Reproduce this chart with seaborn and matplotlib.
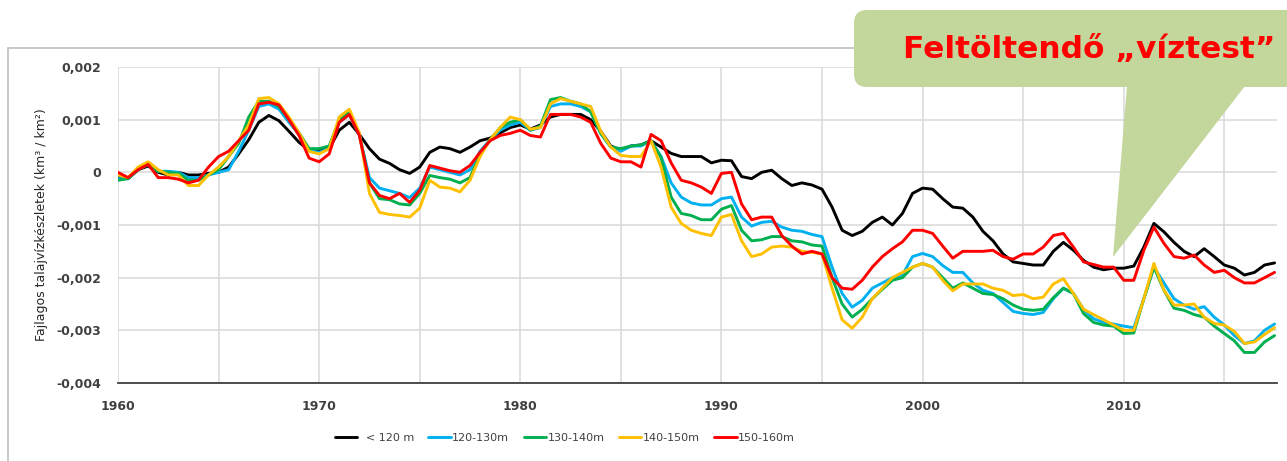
import numpy as np
import pandas as pd
import matplotlib
matplotlib.use("Agg")
import matplotlib.pyplot as plt
import seaborn as sns
from matplotlib.patches import FancyBboxPatch, Polygon
from matplotlib.lines import Line2D
from matplotlib.transforms import IdentityTransform
from matplotlib.ticker import FixedLocator, FuncFormatter

# Half-yearly sampling, 1960.0 ... 2017.5
years = 1960 + 0.5 * np.arange(116)

# Specific groundwater storage change, in 1e-3 km3/km2
lt120 = [
    -0.10, -0.12, 0.05, 0.12, 0.00, -0.05, 0.00, -0.05, -0.05, -0.02,
    0.00, 0.10, 0.35, 0.62, 0.95, 1.08, 0.98, 0.78, 0.57, 0.42,
    0.40, 0.45, 0.80, 0.95, 0.72, 0.45, 0.25, 0.17, 0.05, -0.02,
    0.10, 0.38, 0.48, 0.45, 0.38, 0.48, 0.60, 0.65, 0.75, 0.85,
    0.90, 0.82, 0.90, 1.05, 1.10, 1.10, 1.10, 1.00, 0.78, 0.50,
    0.42, 0.50, 0.52, 0.60, 0.48, 0.36, 0.30, 0.30, 0.30, 0.18,
    0.23, 0.22, -0.08, -0.12, 0.00, 0.04, -0.12, -0.25, -0.20, -0.24,
    -0.32, -0.66, -1.10, -1.20, -1.12, -0.95, -0.85, -1.00, -0.78, -0.40,
    -0.30, -0.32, -0.50, -0.66, -0.68, -0.85, -1.12, -1.30, -1.55, -1.70,
    -1.73, -1.76, -1.76, -1.50, -1.33, -1.48, -1.67, -1.80, -1.85, -1.82,
    -1.82, -1.78, -1.42, -0.97, -1.13, -1.33, -1.50, -1.60, -1.45, -1.60,
    -1.76, -1.82, -1.95, -1.90, -1.76, -1.72,
]
h120_130 = [
    -0.12, -0.12, 0.05, 0.15, 0.02, 0.02, 0.00, -0.10, -0.10, -0.05,
    0.00, 0.05, 0.40, 0.80, 1.25, 1.30, 1.20, 0.95, 0.72, 0.42,
    0.38, 0.45, 0.95, 1.10, 0.70, -0.10, -0.30, -0.35, -0.40, -0.48,
    -0.30, 0.10, 0.05, 0.00, -0.05, 0.05, 0.40, 0.62, 0.80, 0.90,
    0.95, 0.80, 0.85, 1.25, 1.30, 1.30, 1.25, 1.15, 0.74, 0.48,
    0.40, 0.50, 0.50, 0.60, 0.30, -0.20, -0.47, -0.58, -0.62, -0.62,
    -0.50, -0.47, -0.85, -1.02, -0.95, -0.93, -1.04, -1.10, -1.12, -1.18,
    -1.22, -1.80, -2.30, -2.56, -2.43, -2.20, -2.10, -2.00, -1.95, -1.60,
    -1.54, -1.60, -1.77, -1.90, -1.90, -2.10, -2.24, -2.30, -2.47, -2.64,
    -2.68, -2.70, -2.66, -2.40, -2.20, -2.30, -2.60, -2.78, -2.85, -2.88,
    -2.92, -2.95, -2.40, -1.80, -2.10, -2.40, -2.52, -2.60, -2.55, -2.75,
    -2.90, -3.10, -3.25, -3.20, -3.00, -2.88,
]
h130_140 = [
    -0.15, -0.12, 0.05, 0.15, 0.02, 0.00, -0.02, -0.15, -0.15, -0.05,
    0.05, 0.30, 0.55, 1.05, 1.35, 1.35, 1.25, 1.00, 0.75, 0.45,
    0.45, 0.50, 1.00, 1.15, 0.72, -0.20, -0.50, -0.52, -0.60, -0.62,
    -0.40, -0.06, -0.10, -0.13, -0.20, -0.10, 0.35, 0.62, 0.85, 0.95,
    1.00, 0.80, 0.88, 1.38, 1.42, 1.35, 1.30, 1.15, 0.74, 0.48,
    0.45, 0.50, 0.52, 0.60, 0.28, -0.47, -0.78, -0.82, -0.90, -0.90,
    -0.70, -0.63, -1.10, -1.30, -1.28, -1.22, -1.22, -1.30, -1.32, -1.38,
    -1.40, -2.00, -2.50, -2.75, -2.60, -2.40, -2.22, -2.05, -2.00, -1.80,
    -1.73, -1.80, -2.00, -2.20, -2.10, -2.20, -2.30, -2.32, -2.40, -2.52,
    -2.60, -2.62, -2.60, -2.38, -2.20, -2.30, -2.68, -2.85, -2.90, -2.92,
    -3.06, -3.05, -2.40, -1.80, -2.24, -2.58, -2.62, -2.70, -2.75, -2.92,
    -3.06, -3.20, -3.42, -3.42, -3.22, -3.10,
]
h140_150 = [
    -0.05, -0.10, 0.10, 0.20, 0.05, -0.05, -0.05, -0.25, -0.25, -0.05,
    0.10, 0.30, 0.60, 0.90, 1.40, 1.42, 1.30, 1.05, 0.75, 0.40,
    0.35, 0.45, 1.05, 1.20, 0.75, -0.40, -0.76, -0.80, -0.82, -0.85,
    -0.68, -0.15, -0.28, -0.30, -0.37, -0.15, 0.30, 0.62, 0.85, 1.05,
    1.00, 0.82, 0.85, 1.30, 1.40, 1.35, 1.30, 1.25, 0.78, 0.48,
    0.32, 0.30, 0.30, 0.60, 0.10, -0.66, -0.97, -1.10, -1.16, -1.20,
    -0.85, -0.80, -1.30, -1.60, -1.55, -1.42, -1.40, -1.42, -1.50, -1.52,
    -1.55, -2.20, -2.80, -2.96, -2.75, -2.40, -2.20, -2.00, -1.90, -1.80,
    -1.73, -1.80, -2.05, -2.25, -2.12, -2.12, -2.12, -2.20, -2.24, -2.34,
    -2.32, -2.40, -2.37, -2.12, -2.02, -2.30, -2.60, -2.70, -2.80, -2.90,
    -3.00, -3.00, -2.40, -1.73, -2.24, -2.52, -2.52, -2.50, -2.75, -2.87,
    -2.90, -3.02, -3.25, -3.22, -3.08, -2.95,
]
h150_160 = [
    0.00, -0.10, 0.05, 0.15, -0.10, -0.10, -0.13, -0.20, -0.15, 0.10,
    0.30, 0.40, 0.60, 0.80, 1.30, 1.33, 1.28, 1.00, 0.70, 0.27,
    0.20, 0.35, 0.95, 1.10, 0.70, -0.20, -0.44, -0.50, -0.40, -0.57,
    -0.34, 0.13, 0.08, 0.03, 0.00, 0.13, 0.38, 0.60, 0.70, 0.74,
    0.80, 0.70, 0.67, 1.10, 1.10, 1.10, 1.05, 0.95, 0.55, 0.27,
    0.20, 0.20, 0.10, 0.72, 0.60, 0.18, -0.15, -0.20, -0.28, -0.40,
    -0.02, 0.00, -0.60, -0.90, -0.85, -0.85, -1.20, -1.40, -1.55, -1.50,
    -1.55, -2.00, -2.20, -2.22, -2.05, -1.80, -1.60, -1.45, -1.32, -1.10,
    -1.10, -1.16, -1.40, -1.63, -1.50, -1.50, -1.50, -1.48, -1.60, -1.65,
    -1.55, -1.55, -1.42, -1.20, -1.16, -1.42, -1.70, -1.75, -1.80, -1.80,
    -2.05, -2.05, -1.48, -1.04, -1.35, -1.60, -1.63, -1.57, -1.76, -1.90,
    -1.86, -2.00, -2.10, -2.10, -2.00, -1.90,
]

series_labels = ["  < 120 m", "120-130m", "130-140m", "140-150m", "150-160m"]
series_values = [lt120, h120_130, h130_140, h140_150, h150_160]
series_colors = ["#000000", "#00B0F0", "#00B050", "#FFC000", "#FF0000"]

y_ticks = [0.002, 0.001, 0.0, -0.001, -0.002, -0.003, -0.004]
x_label_years = [1960, 1970, 1980, 1990, 2000, 2010]
x_grid_years = [1965, 1975, 1985, 1995, 2005, 2015]

df = pd.concat(
    [pd.DataFrame({"year": years, "value": np.array(v) * 1e-3, "band": lab})
     for lab, v in zip(series_labels, series_values)],
    ignore_index=True,
)

W, H = 1287, 461
sns.set_theme(style="white")
plt.rcParams["font.family"] = ["DejaVu Sans"]

fig = plt.figure(figsize=(W / 100, H / 100), dpi=100)
ax = fig.add_axes([118 / W, 1 - 383 / H, (1277 - 118) / W, (383 - 67) / H])

sns.lineplot(data=df, x="year", y="value", hue="band", hue_order=series_labels,
             palette=series_colors, linewidth=2.1, ax=ax, legend=True)

ax.set_xlim(1960, 2017.62)
ax.set_ylim(-0.004, 0.002)

ax.xaxis.set_major_locator(FixedLocator(x_label_years))
ax.xaxis.set_minor_locator(FixedLocator(x_grid_years))
ax.yaxis.set_major_locator(FixedLocator(y_ticks))


def comma_fmt(v, pos):
    if abs(v) < 1e-12:
        return "0"
    return f"{v:.3f}".replace(".", ",")


ax.yaxis.set_major_formatter(FuncFormatter(comma_fmt))
ax.grid(True, which="both", color="#d9d9d9", linewidth=1.1, zorder=0)
ax.set_axisbelow(True)
for side in ["top", "right", "left"]:
    ax.spines[side].set_visible(False)
ax.spines["bottom"].set_color("#404040")
ax.spines["bottom"].set_linewidth(1.3)

ax.tick_params(axis="both", which="both", length=0)
ax.tick_params(axis="y", pad=12, labelsize=9, labelcolor="#404040")
ax.tick_params(axis="x", pad=12, labelsize=9, labelcolor="#404040")
for lab in ax.get_xticklabels() + ax.get_yticklabels():
    lab.set_fontweight("bold")

ax.set_xlabel("")
ax.set_ylabel("Fajlagos talajvízkészletek (km³ / km²)", fontsize=9,
              color="#262626", labelpad=6)

handles, labels = ax.get_legend_handles_labels()
ax.get_legend().remove()
fig.legend(handles, labels, loc="center", bbox_to_anchor=(565 / W, 1 - 438 / H),
           ncol=5, frameon=False, fontsize=8, handlelength=2.0,
           handletextpad=0.15, columnspacing=1.3, labelcolor="#404040")

# chart-area border (left and top edges)
ident = IdentityTransform()
fig.add_artist(Line2D([8, 8], [0, H - 48], transform=ident, color="#bfbfbf", lw=1.2))
fig.add_artist(Line2D([8, W], [H - 48, H - 48], transform=ident, color="#bfbfbf", lw=1.2))

# speech-bubble callout
bubble_color = "#C3D69B"
box = FancyBboxPatch((854, H - 87), 480, 77,
                     boxstyle="round,pad=0,rounding_size=13",
                     transform=ident, facecolor=bubble_color, edgecolor="none",
                     zorder=5)
fig.add_artist(box)
tail = Polygon([(1127, H - 86), (1113, H - 257), (1245, H - 86)], closed=True,
               transform=ident, facecolor=bubble_color, edgecolor="none", zorder=5)
fig.add_artist(tail)
fig.text(1089 / W, 1 - 49 / H, "Feltöltendő „víztest”", color="#FF0000",
         fontsize=22.5, fontweight="bold", ha="center", va="center", zorder=6)

fig.savefig("out.png", dpi=100)
